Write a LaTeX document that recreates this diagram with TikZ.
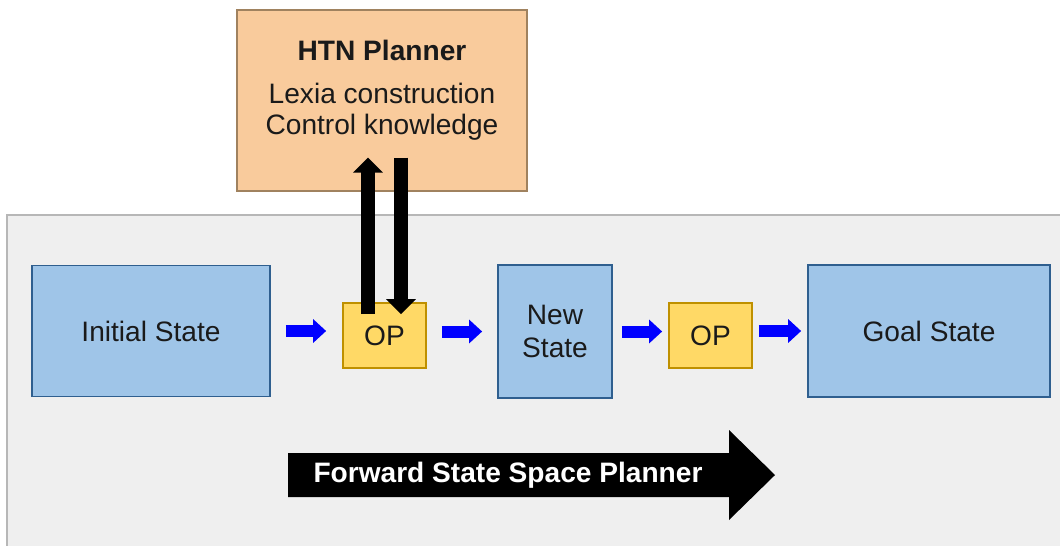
\documentclass[tikz,border=0pt]{standalone}
\usepackage{fontspec}
\setmainfont{Liberation Sans}
\usetikzlibrary{arrows.meta,calc,positioning}

\definecolor{bggray}{HTML}{EFEFEF}
\definecolor{bgline}{HTML}{B7B7B7}
\definecolor{statefill}{HTML}{9FC5E8}
\definecolor{stateline}{HTML}{2F5F8F}
\definecolor{opfill}{HTML}{FFD966}
\definecolor{opline}{HTML}{BF9000}
\definecolor{htnfill}{HTML}{F9CB9C}
\definecolor{htnline}{HTML}{A0825F}
\definecolor{inktext}{HTML}{1A1A1A}

\begin{document}
\begin{tikzpicture}[x=0.02cm,y=-0.02cm]
				\tikzstyle{every node} = [inner sep=0pt,text=inktext,font=\fontsize{16}{19}\selectfont];
				\tikzstyle{state} = [rectangle,fill=statefill,draw=stateline,line width=1pt,align=center];
				\tikzstyle{opbox} = [rectangle,fill=opfill,draw=opline,line width=1pt,minimum width=1.66cm,minimum height=1.3cm];
				\tikzstyle{flow} = [-{Triangle[width=0.46cm,length=0.26cm]},line width=0.24cm,blue];
				\tikzstyle{feed} = [-{Triangle[width=0.58cm,length=0.3cm]},line width=0.28cm,black];
				\useasboundingbox (0,0) rectangle (1060,545);
				\fill[bggray,draw=bgline,line width=1pt] (7,215) rectangle (1075,560);
				\node[rectangle,fill=htnfill,draw=htnline,line width=0.8pt,minimum width=5.8cm,minimum height=3.62cm] (htn) at (382,100.5) {};
				\node[align=center,font=\fontsize{16}{17.6}\selectfont] (htnlabel) at (382,90) {\textbf{HTN Planner}\\[7pt]Lexia construction\\Control knowledge};
				\node[state,minimum width=4.76cm,minimum height=2.62cm] (init) at (151,331) {Initial State};
				\node[opbox] (op1) at (384.5,335.5) {OP};
				\node[state,minimum width=2.28cm,minimum height=2.66cm] (new) at (555,331.5) {New\\State};
				\node[opbox] (op2) at (710.5,335.5) {OP};
				\node[state,minimum width=4.84cm,minimum height=2.64cm] (goal) at (929,331) {Goal State};
				\draw[flow,shorten <=0.3cm,shorten >=0.32cm] (init.east) -- (init.east -| op1.west);
				\draw[flow,shorten <=0.3cm,shorten >=0.3cm] (new.west -| op1.east) -- (new.west);
				\draw[flow,shorten <=0.18cm,shorten >=0.12cm] (new.east) -- (new.east -| op2.west);
				\draw[flow,shorten <=0.12cm,shorten >=0.12cm] (goal.west -| op2.east) -- (goal.west);
				\draw[feed] ($(op1.north)+(-16.5,12)$) -- ($(op1.north |- htn.south)+(-16.5,-34)$);
				\draw[feed] ($(op1.north |- htn.south)+(16.5,-34)$) -- ($(op1.north)+(16.5,12)$);
				% big forward arrow
				\fill[black] (288,453) -- (729,453) -- (729,430) -- (775,475) -- (729,520) -- (729,497) -- (288,497) -- cycle;
				\node[text=white,font=\fontsize{16}{19}\selectfont\bfseries] (fwd) at (508,475) {Forward State Space Planner};
\end{tikzpicture}
\end{document}
